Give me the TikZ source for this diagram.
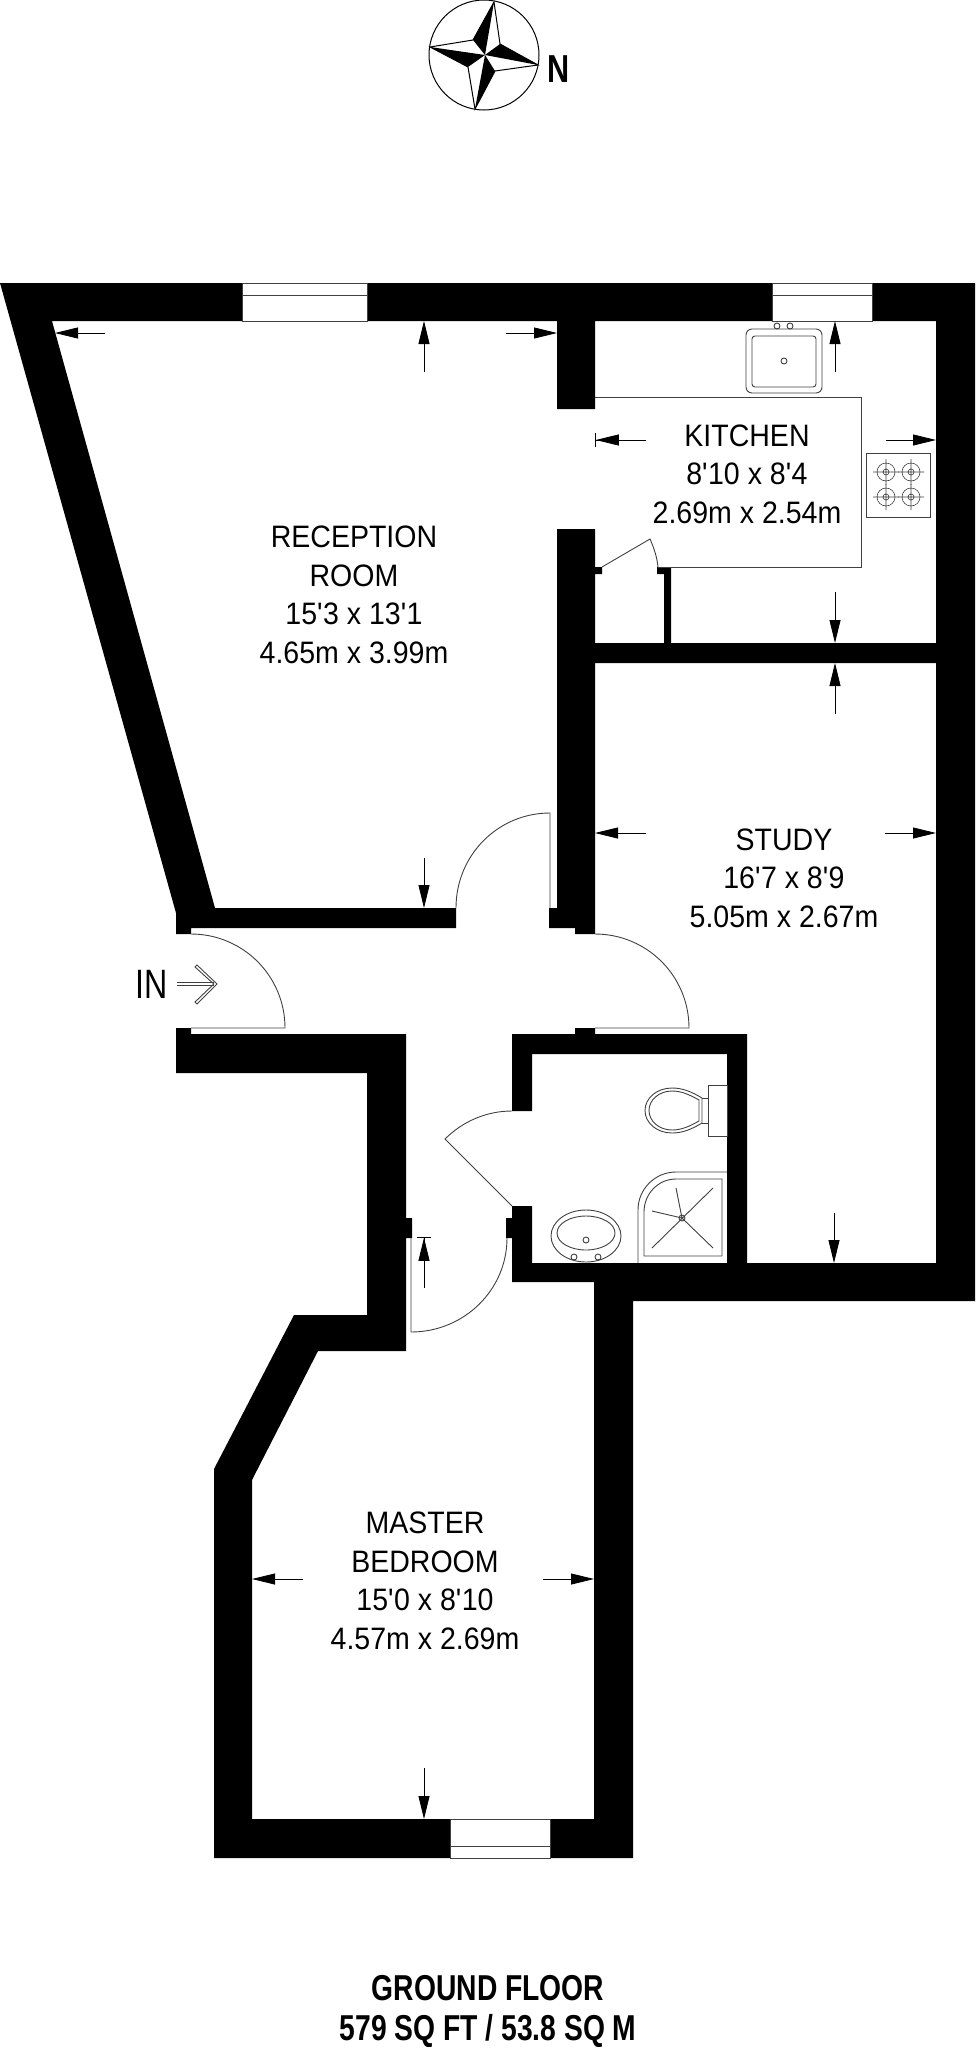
\documentclass[tikz,border=0pt]{standalone}
\usepackage{fontspec}
\setmainfont{Liberation Sans}[FakeStretch=0.92]
\newfontfamily\condfont{Liberation Sans}[FakeStretch=0.785]
\usepackage{tikz}
\usetikzlibrary{arrows.meta}
\newcommand{\ft}{\textquotesingle}

\begin{document}
\begin{tikzpicture}[x=1pt, y=-1pt, line width=0.8pt,
      every node/.append style={inner sep=0pt,align=center,font=\fontsize{31}{38.5}\selectfont},
      dim/.style={-{Triangle[length=23pt,width=11pt]}},
      dimbar/.style={-{Triangle[length=23pt,width=11pt]Bar[width=14pt,sep=0pt]}},
      wall/.style={fill=black,draw=none},
      fitting/.style={draw=black!75,line width=0.9pt}]
    \tikzstyle{heading} = [font=\fontsize{36}{40}\selectfont\condfont\bfseries]
    \useasboundingbox (0,0) rectangle (975,2048);
    % walls
    \fill[wall] (0,283) -- (242,283) -- (242,321) -- (52,321) -- (215,908) -- (456,908) -- (456,928)
      -- (191,928) -- (191,934) -- (176,934) -- (176,913) -- cycle;
    \fill[wall] (367,283) -- (772,283) -- (772,321) -- (595,321) -- (595,409) -- (557,409) -- (557,321) -- (367,321) -- cycle;
    \fill[wall] (512,1034) -- (575,1034) -- (575,1028) -- (595,1028) -- (595,1034) -- (747,1034) -- (747,1263)
      -- (936,1263) -- (936,321) -- (872,321) -- (872,283) -- (975,283) -- (975,1301) -- (633,1301)
      -- (633,1858) -- (550,1858) -- (550,1819) -- (594,1819) -- (594,1282) -- (512,1282) -- (512,1238)
      -- (506,1238) -- (506,1218) -- (512,1218) -- (512,1206) -- (532,1206) -- (532,1263) -- (727,1263)
      -- (727,1054) -- (532,1054) -- (532,1111) -- (512,1111) -- cycle;
    \fill[wall] (557,529) -- (595,529) -- (595,567) -- (602,567) -- (602,574) -- (595,574) -- (595,643)
      -- (664,643) -- (664,574) -- (657,574) -- (657,567) -- (671,567) -- (671,643) -- (936,643)
      -- (936,663) -- (595,663) -- (595,934) -- (575,934) -- (575,928) -- (549,928) -- (549,908) -- (557,908) -- cycle;
    \fill[wall] (176,1028) -- (191,1028) -- (191,1034) -- (406,1034) -- (406,1218) -- (412,1218) -- (412,1238)
      -- (406,1238) -- (406,1351) -- (318,1351) -- (252,1480) -- (252,1819) -- (450,1819) -- (450,1858)
      -- (214,1858) -- (214,1469) -- (294,1315) -- (367,1315) -- (367,1073) -- (176,1073) -- cycle;
    % windows
    \draw[fitting] (242,283) rectangle (367,321) (242,295) -- (367,295);
    \draw[fitting] (772,283) rectangle (872,321) (772,295) -- (872,295);
    \draw[fitting] (450,1819) rectangle (550,1858) (450,1846) -- (550,1846);
    % doors
    \draw[fitting] (285,1028) .. controls (285,976) and (243,934) .. (191,934) (191,1028) -- (285,1028);
    \draw[fitting] (456,908) .. controls (456,855) and (498,813) .. (550,813) -- (550,908);
    \draw[fitting] (595,934) .. controls (647,934) and (689,976) .. (689,1028) -- (595,1028);
    \draw[fitting] (507,1238) .. controls (507,1290) and (464,1332) .. (411,1332) -- (411,1238);
    \draw[fitting] (512,1111) .. controls (487,1111) and (463,1121) .. (445,1139) -- (512,1206);
    \draw[fitting] (602,567) -- (650,539) .. controls (654,548) and (657,557) .. (658,567);
    % kitchen units
    \draw[fitting] (595,397) -- (861,397) -- (861,567) -- (658,567);
    \draw[fitting,rounded corners=6pt] (746,329) rectangle (822,393);
    \draw[fitting,rounded corners=3pt] (752,336) rectangle (816,387);
    \draw[fitting] (777,326) circle (3) (790,326) circle (3) (784,361) circle (3);
    \draw[fitting] (866,453) rectangle (930,517);
    \foreach \hx in {886,911} {
      \foreach \hy in {472,497} {
        \draw[fitting,line width=0.6pt] (\hx,\hy) circle (9) (\hx,\hy) circle (3)
          (\hx-13,\hy) -- (\hx+13,\hy) (\hx,\hy-13) -- (\hx,\hy+13);
      }
    }
    % bathroom
    \draw[fitting] (708,1085) rectangle (727,1136) (702,1098) -- (708,1098) (702,1123) -- (708,1123);
    \draw[fitting] (702,1098) .. controls (692,1092) and (683,1088) .. (672,1088)
      .. controls (657,1088) and (645,1098) .. (645,1110.5)
      .. controls (645,1123) and (657,1133) .. (672,1133)
      .. controls (683,1133) and (692,1129) .. (702,1123) -- cycle;
    \draw[fitting] (699,1100) .. controls (690,1095) and (682,1091) .. (672,1091)
      .. controls (659,1091) and (649,1100) .. (649,1110.5)
      .. controls (649,1121) and (659,1130) .. (672,1130)
      .. controls (682,1130) and (690,1126) .. (699,1121) -- cycle;
    \draw[fitting] (586,1236) ellipse (35 and 26) (586,1233) ellipse (29 and 17);
    \draw[fitting] (574,1257) circle (3) (598,1257) circle (3) (586,1240) circle (3);
    \draw[fitting] (638,1263) -- (638,1210) .. controls (638,1189) and (655,1172) .. (676,1172) -- (727,1172);
    \draw[fitting] (644,1256) -- (644,1212) .. controls (644,1194) and (658,1179) .. (676,1179) -- (722,1179) -- (722,1256) -- cycle;
    \draw[fitting] (682,1218) circle (3);
    \draw[fitting] (713,1188) -- (652,1248) (713,1248) -- (682,1218) -- (652,1211) (682,1218) -- (676,1188);
    % dimensions
    \draw[dim] (105,333) -- (55,333);
    \draw[dim] (424,372) -- (424,321);
    \draw[dim] (506,333) -- (557,333);
    \draw[dim] (424,858) -- (424,908);
    \draw[dimbar] (646,440) -- (595,440);
    \draw[dim] (886,440) -- (936,440);
    \draw[dim] (835,372) -- (835,321);
    \draw[dim] (835,592) -- (835,643);
    \draw[dim] (835,714) -- (835,663);
    \draw[dim] (834,1213) -- (834,1263);
    \draw[dim] (646,833) -- (595,833);
    \draw[dim] (885,833) -- (936,833);
    \draw[dimbar] (424,1288) -- (424,1237);
    \draw[dim] (303,1579) -- (252,1579);
    \draw[dim] (543,1579) -- (594,1579);
    \draw[dim] (424,1768) -- (424,1819);
    % entrance arrow
    \draw[fitting] (177,982.8) -- (214,982.8) (177,985.2) -- (214,985.2);
    \draw[fitting] (197,965) -- (217,984) -- (197,1004) -- (195,1002) -- (213.8,984) -- (195,967) -- cycle;
    % labels
    \node (reception) at (354,595) {RECEPTION\\ROOM\\15\ft3 x 13\ft1\\4.65m x 3.99m};
    \node (kitchen) at (747,474) {KITCHEN\\8\ft10 x 8\ft4\\2.69m x 2.54m};
    \node (study) at (784,878) {STUDY\\16\ft7 x 8\ft9\\5.05m x 2.67m};
    \node (bedroom) at (425,1581) {MASTER\\BEDROOM\\15\ft0 x 8\ft10\\4.57m x 2.69m};
    \node (entrance) [font=\fontsize{41}{41}\selectfont\condfont] at (152,984) {IN};
    \node (floor) [heading] at (488,2011) {GROUND FLOOR\\579 SQ FT / 53.8 SQ M};
    % compass
    \draw[line width=1pt] (484,55) circle (55);
    \draw[line width=1pt] (494,2) -- (473,40) -- (430,47) -- (468,67) -- (475,109) -- (495,71) -- (538,65) -- (500,44) -- cycle;
    \fill (494,2) -- (473,40) -- (485,55) -- cycle;
    \fill (538,65) -- (500,44) -- (485,55) -- cycle;
    \fill (475,109) -- (495,71) -- (485,55) -- cycle;
    \fill (430,47) -- (468,67) -- (485,55) -- cycle;
    \node (north) [font=\fontsize{39}{39}\selectfont\condfont\bfseries] at (559,69) {N};
\end{tikzpicture}
\end{document}
